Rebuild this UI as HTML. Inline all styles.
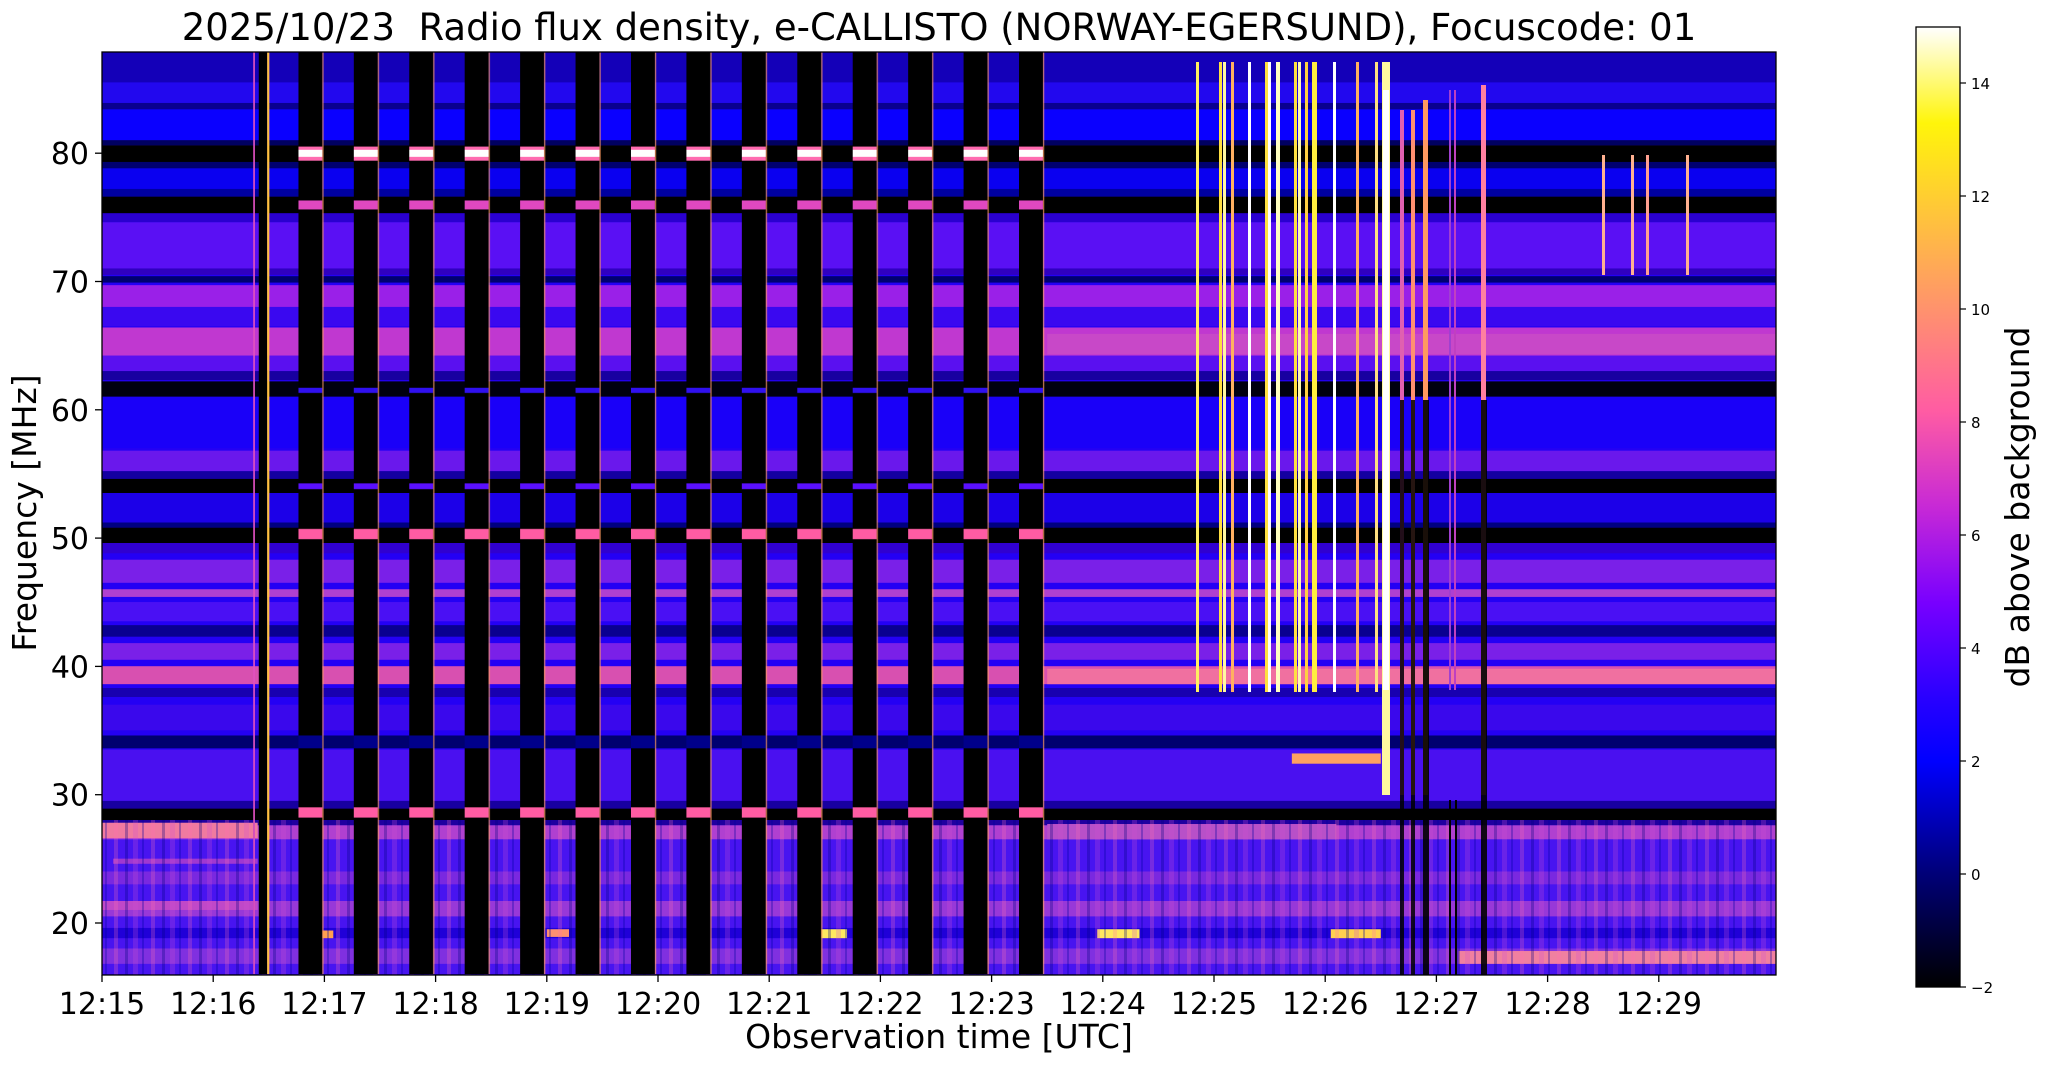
<!DOCTYPE html>
<html><head><meta charset="utf-8"><style>
body{margin:0;background:#fff;}
svg{display:block;font-family:"DejaVu Sans","Liberation Sans",sans-serif;}
</style></head><body>
<svg width="2047" height="1067" viewBox="0 0 2047 1067" xmlns="http://www.w3.org/2000/svg">
<defs>
<clipPath id="pc"><rect x="102" y="52" width="1674" height="923"/></clipPath>
<linearGradient id="cb" x1="0" y1="1" x2="0" y2="0">
<stop offset="0" stop-color="#000000"/>
<stop offset="0.118" stop-color="#000078"/>
<stop offset="0.235" stop-color="#0000ff"/>
<stop offset="0.3" stop-color="#2800ff"/>
<stop offset="0.4" stop-color="#7800ff"/>
<stop offset="0.5" stop-color="#c729d6"/>
<stop offset="0.6" stop-color="#ff5ca3"/>
<stop offset="0.7" stop-color="#ff8f70"/>
<stop offset="0.8" stop-color="#ffc23d"/>
<stop offset="0.9" stop-color="#fff50a"/>
<stop offset="1" stop-color="#ffffff"/>
</linearGradient>
<pattern id="cols" patternUnits="userSpaceOnUse" x="1.766" y="16" width="0.4985" height="72">
<rect x="0" y="0" width="0.215" height="72" fill="#000"/>
<rect x="0" y="63.4" width="0.215" height="1.1" fill="#ff6ab0"/>
<rect x="0" y="63.7" width="0.215" height="0.55" fill="#ffffff"/>
<rect x="0" y="59.6" width="0.215" height="0.7" fill="#e048c0"/>
<rect x="0" y="45.3" width="0.215" height="0.4" fill="#3010f0"/>
<rect x="0" y="37.8" width="0.215" height="0.45" fill="#5a10ff"/>
<rect x="0" y="33.9" width="0.215" height="0.8" fill="#ff5ca3"/>
<rect x="0" y="17.6" width="0.215" height="1.0" fill="#00008a"/>
<rect x="0" y="12.2" width="0.215" height="0.8" fill="#ff5ca3"/>
<rect x="0.215" y="0" width="0.012" height="72" fill="#ff9a60" opacity="0.7"/>
<rect x="-0.01" y="0" width="0.01" height="72" fill="#c040d0" opacity="0.6"/>
</pattern>
<pattern id="noise" patternUnits="userSpaceOnUse" x="0" y="0" width="37" height="50">
<rect x="3" y="0" width="4" height="50" fill="#ff70b0" opacity="0.25"/>
<rect x="14" y="0" width="3" height="50" fill="#000080" opacity="0.3"/>
<rect x="22" y="0" width="5" height="50" fill="#d050d0" opacity="0.25"/>
<rect x="31" y="0" width="2" height="50" fill="#0000a0" opacity="0.3"/>
</pattern>
</defs>

<g clip-path="url(#pc)">
<rect x="102" y="52" width="1674" height="923" fill="#2400f4"/>
<g transform="translate(102,1179.4) scale(111.2,-12.83)">
<g>
<rect x="0" y="85.5" width="15.1" height="2.6" fill="#1400b8"/>
<rect x="0" y="83.8" width="15.1" height="1.7" fill="#2208ee"/>
<rect x="0" y="83.4" width="15.1" height="0.5" fill="#0a0090"/>
<rect x="0" y="81" width="15.1" height="2.4" fill="#0a00ff"/>
<rect x="0" y="80.6" width="15.1" height="0.4" fill="#000060"/>
<rect x="0" y="79.3" width="15.1" height="1.3" fill="#000000"/>
<rect x="0" y="78.8" width="15.1" height="0.5" fill="#000070"/>
<rect x="0" y="77.2" width="15.1" height="1.6" fill="#0a00f0"/>
<rect x="0" y="76.6" width="15.1" height="0.6" fill="#0000a0"/>
<rect x="0" y="75.3" width="15.1" height="1.3" fill="#000000"/>
<rect x="0" y="74.6" width="15.1" height="0.7" fill="#2a00d0"/>
<rect x="0" y="71" width="15.1" height="3.6" fill="#5a10f4"/>
<rect x="0" y="70.5" width="15.1" height="0.5" fill="#3000c0"/>
<rect x="0" y="69.9" width="15.1" height="0.5" fill="#000070"/>
<rect x="0" y="68" width="15.1" height="1.7" fill="#9a20e8"/>
<rect x="0" y="66.5" width="15.1" height="1.5" fill="#3a08f0"/>
<rect x="0" y="64.2" width="15.1" height="2.2" fill="#c038d0"/>
<rect x="0" y="63" width="15.1" height="1.2" fill="#5a10f0"/>
<rect x="0" y="62.3" width="15.1" height="0.7" fill="#1800a0"/>
<rect x="0" y="61" width="15.1" height="1.2" fill="#000010"/>
<rect x="0" y="57" width="15.1" height="4" fill="#1a00f8"/>
<rect x="0" y="55.2" width="15.1" height="1.6" fill="#6a18ec"/>
<rect x="0" y="54.6" width="15.1" height="0.6" fill="#1400a0"/>
<rect x="0" y="53.5" width="15.1" height="1.1" fill="#000000"/>
<rect x="0" y="51.2" width="15.1" height="2.3" fill="#1c00e8"/>
<rect x="0" y="50.8" width="15.1" height="0.4" fill="#000080"/>
<rect x="0" y="49.6" width="15.1" height="1.2" fill="#000000"/>
<rect x="0" y="48.8" width="15.1" height="0.8" fill="#3000d0"/>
<rect x="0" y="46.5" width="15.1" height="1.8" fill="#7a20e8"/>
<rect x="0" y="45.4" width="15.1" height="0.6" fill="#b040d0"/>
<rect x="0" y="43.5" width="15.1" height="1.5" fill="#4a10f4"/>
<rect x="0" y="42.3" width="15.1" height="0.9" fill="#0a0090"/>
<rect x="0" y="40.5" width="15.1" height="1.3" fill="#7a20e8"/>
<rect x="0" y="38.6" width="15.1" height="1.4" fill="#d850b0"/>
<rect x="0" y="37.6" width="15.1" height="0.7" fill="#1800b0"/>
<rect x="0" y="35" width="15.1" height="2" fill="#3a08ec"/>
<rect x="0" y="33.6" width="15.1" height="1" fill="#000070"/>
<rect x="0" y="29.5" width="15.1" height="4" fill="#4a10f0"/>
<rect x="0" y="28.9" width="15.1" height="0.6" fill="#1800a0"/>
<rect x="0" y="28" width="15.1" height="0.9" fill="#000000"/>
<rect x="0" y="27.6" width="15.1" height="0.4" fill="#2000a0"/>
<rect x="0" y="26.5" width="15.1" height="1.1" fill="#b040d0"/>
<rect x="0" y="16" width="15.1" height="10.5" fill="#4814f0"/>
<rect x="0" y="23" width="15.1" height="1" fill="#7a28e0"/>
<rect x="0" y="20.5" width="15.1" height="1.2" fill="#9838d8"/>
<rect x="0" y="18.8" width="15.1" height="0.8" fill="#2000d8"/>
<rect x="0" y="16.8" width="15.1" height="1.2" fill="#8030e0"/>
</g>
<rect x="0" y="26.6" width="1.4" height="1.2" fill="#f07aa0"/>
<rect x="0" y="21" width="1.4" height="0.7" fill="#c048c8"/>
<rect x="0.1" y="24.6" width="1.3" height="0.4" fill="#a038d0"/>
<rect x="8.5" y="38.6" width="6.6" height="1.2" fill="#f070a0"/>
<rect x="8.5" y="64.3" width="6.6" height="1.6" fill="#c848c8"/>
<rect x="12.2" y="16.8" width="2.9" height="1.0" fill="#f080a0"/>
<rect x="8.5" y="26.5" width="2.6" height="1.2" fill="#b850c8"/>
<rect x="10.7" y="32.4" width="0.8" height="0.8" fill="#ffa060"/>
<rect x="6.45" y="18.8" width="0.25" height="0.7" fill="#ffe860"/>
<rect x="8.95" y="18.8" width="0.38" height="0.7" fill="#ffe860"/>
<rect x="11.05" y="18.8" width="0.45" height="0.7" fill="#ffd050"/>
<rect x="1.96" y="18.8" width="0.12" height="0.6" fill="#ffa050"/>
<rect x="4.0" y="18.9" width="0.2" height="0.6" fill="#ff9070"/>
</g>
<rect x="102" y="820" width="1674" height="155" fill="url(#noise)"/>
<g transform="translate(102,1179.4) scale(111.2,-12.83)">
<rect x="1.766" y="16" width="6.74" height="72" fill="url(#cols)"/>
<rect x="1.41" y="16" width="0.075" height="72" fill="#000"/>
<rect x="1.485" y="16" width="0.02" height="72" fill="#ffc040"/>
<rect x="1.36" y="16" width="0.015" height="72" fill="#e050c0"/>
</g>

<g>
<rect x="1196" y="62" width="3" height="630" fill="#fff060"/>
<rect x="1219" y="62" width="3" height="630" fill="#ffe040"/>
<rect x="1223" y="62" width="3" height="630" fill="#fff8a0"/>
<rect x="1231" y="62" width="3" height="630" fill="#ffb060"/>
<rect x="1248" y="62" width="3" height="630" fill="#ffffff"/>
<rect x="1265" y="62" width="3" height="630" fill="#ffe040"/>
<rect x="1268" y="62" width="3" height="630" fill="#ffffff"/>
<rect x="1276" y="62" width="4" height="630" fill="#ffffc0"/>
<rect x="1294" y="62" width="3" height="630" fill="#ffe040"/>
<rect x="1298" y="62" width="3" height="630" fill="#fff8b0"/>
<rect x="1305" y="62" width="3" height="630" fill="#ffd040"/>
<rect x="1312" y="62" width="5" height="630" fill="#ffee40"/>
<rect x="1333" y="62" width="3" height="630" fill="#ffffff"/>
<rect x="1356" y="62" width="3" height="630" fill="#ffb060"/>
<rect x="1375" y="62" width="3" height="630" fill="#ffe080"/>
<rect x="1382" y="62" width="8" height="733" fill="#fff8a0"/>
<rect x="1383" y="90" width="6" height="600" fill="#ffffff"/>
<rect x="1400" y="110" width="4" height="685" fill="#e060b0"/>
<rect x="1411" y="110" width="4" height="685" fill="#ff9070"/>
<rect x="1423" y="100" width="5" height="695" fill="#ff9a60"/>
<rect x="1449" y="90" width="2" height="600" fill="#a040d0"/>
<rect x="1454" y="90" width="2" height="600" fill="#c040c0"/>
<rect x="1481" y="85" width="5" height="710" fill="#ff80a0"/>
<rect x="1602" y="155" width="3" height="120" fill="#ffb090"/>
<rect x="1631" y="155" width="3" height="120" fill="#ffb090"/>
<rect x="1646" y="155" width="3" height="120" fill="#ffa090"/>
<rect x="1686" y="155" width="3" height="120" fill="#ffb090"/>
<rect x="1400" y="400" width="4" height="575" fill="#000" opacity="0.85"/>
<rect x="1411" y="400" width="4" height="575" fill="#000" opacity="0.85"/>
<rect x="1423" y="400" width="6" height="575" fill="#000" opacity="0.9"/>
<rect x="1481" y="400" width="6" height="575" fill="#000" opacity="0.9"/>
<rect x="1449" y="800" width="2" height="175" fill="#000"/>
<rect x="1455" y="800" width="2" height="175" fill="#000"/>
</g>
</g>
<rect x="102" y="52" width="1674" height="923" fill="none" stroke="#000" stroke-width="1.3"/>

<g stroke="#000" stroke-width="1.3">
<line x1="102" y1="975" x2="102" y2="982"/><line x1="213.2" y1="975" x2="213.2" y2="982"/><line x1="324.4" y1="975" x2="324.4" y2="982"/><line x1="435.6" y1="975" x2="435.6" y2="982"/><line x1="546.8" y1="975" x2="546.8" y2="982"/><line x1="658" y1="975" x2="658" y2="982"/><line x1="769.2" y1="975" x2="769.2" y2="982"/><line x1="880.4" y1="975" x2="880.4" y2="982"/><line x1="991.6" y1="975" x2="991.6" y2="982"/><line x1="1102.8" y1="975" x2="1102.8" y2="982"/><line x1="1214" y1="975" x2="1214" y2="982"/><line x1="1325.2" y1="975" x2="1325.2" y2="982"/><line x1="1436.4" y1="975" x2="1436.4" y2="982"/><line x1="1547.6" y1="975" x2="1547.6" y2="982"/><line x1="1658.8" y1="975" x2="1658.8" y2="982"/>
<line x1="95" y1="923" x2="102" y2="923"/><line x1="95" y1="794.7" x2="102" y2="794.7"/><line x1="95" y1="666.4" x2="102" y2="666.4"/><line x1="95" y1="538.1" x2="102" y2="538.1"/><line x1="95" y1="409.8" x2="102" y2="409.8"/><line x1="95" y1="281.5" x2="102" y2="281.5"/><line x1="95" y1="153.2" x2="102" y2="153.2"/>
</g>
<g font-size="30" fill="#000" text-anchor="middle">
<text x="102" y="1014">12:15</text><text x="213.2" y="1014">12:16</text><text x="324.4" y="1014">12:17</text><text x="435.6" y="1014">12:18</text><text x="546.8" y="1014">12:19</text><text x="658" y="1014">12:20</text><text x="769.2" y="1014">12:21</text><text x="880.4" y="1014">12:22</text><text x="991.6" y="1014">12:23</text><text x="1102.8" y="1014">12:24</text><text x="1214" y="1014">12:25</text><text x="1325.2" y="1014">12:26</text><text x="1436.4" y="1014">12:27</text><text x="1547.6" y="1014">12:28</text><text x="1658.8" y="1014">12:29</text>
</g>
<g font-size="30" fill="#000" text-anchor="end">
<text x="89" y="934">20</text><text x="89" y="805.7">30</text><text x="89" y="677.4">40</text><text x="89" y="549.1">50</text><text x="89" y="420.8">60</text><text x="89" y="292.5">70</text><text x="89" y="164.2">80</text>
</g>
<text x="939" y="1048" font-size="33" text-anchor="middle">Observation time [UTC]</text>
<text transform="translate(36,513) rotate(-90)" font-size="33" text-anchor="middle">Frequency [MHz]</text>
<text x="939" y="40" font-size="37" text-anchor="middle" xml:space="preserve">2025/10/23  Radio flux density, e-CALLISTO (NORWAY-EGERSUND), Focuscode: 01</text>

<rect x="1916" y="27" width="44" height="960" fill="url(#cb)" stroke="#000" stroke-width="1.3"/>
<g stroke="#000" stroke-width="1.2">
<line x1="1960" y1="987" x2="1966" y2="987"/><line x1="1960" y1="874" x2="1966" y2="874"/><line x1="1960" y1="761" x2="1966" y2="761"/><line x1="1960" y1="648" x2="1966" y2="648"/><line x1="1960" y1="535" x2="1966" y2="535"/><line x1="1960" y1="422" x2="1966" y2="422"/><line x1="1960" y1="309" x2="1966" y2="309"/><line x1="1960" y1="196" x2="1966" y2="196"/><line x1="1960" y1="83" x2="1966" y2="83"/>
</g>
<g font-size="15" fill="#000">
<text x="1971" y="993">−2</text><text x="1971" y="880">0</text><text x="1971" y="767">2</text><text x="1971" y="654">4</text><text x="1971" y="541">6</text><text x="1971" y="428">8</text><text x="1971" y="315">10</text><text x="1971" y="202">12</text><text x="1971" y="89">14</text>
</g>
<text transform="translate(2029,507) rotate(-90)" font-size="33" text-anchor="middle">dB above background</text>
</svg>
</body></html>
